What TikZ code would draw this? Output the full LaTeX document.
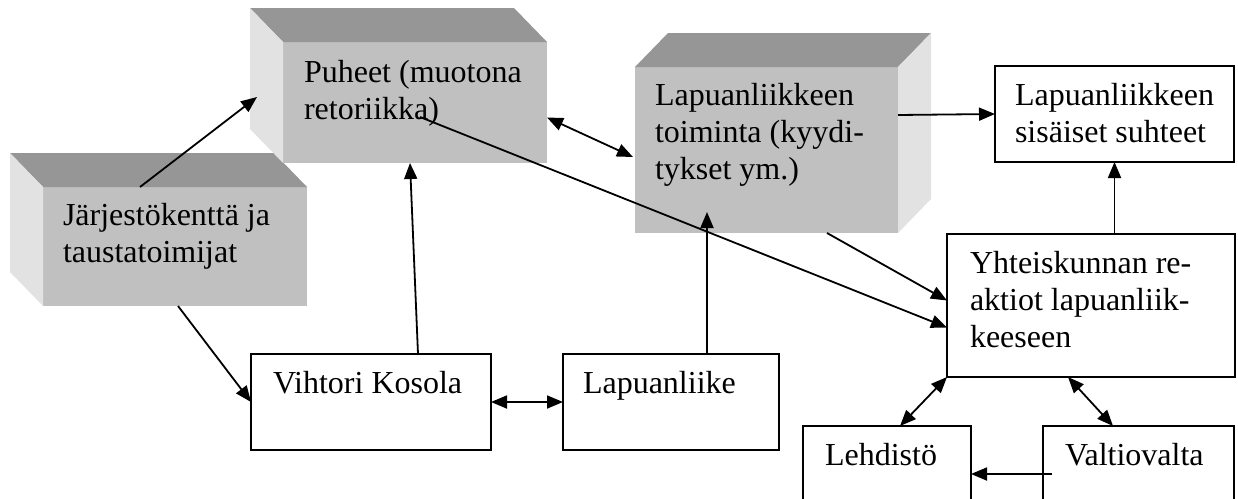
\documentclass[tikz,border=0pt]{standalone}
\usepackage{fontspec}
\setmainfont{Liberation Serif}
\usetikzlibrary{arrows.meta,calc,positioning}
\definecolor{frontgray}{RGB}{192,192,192}
\definecolor{topgray}{RGB}{150,150,150}
\definecolor{sidegray}{RGB}{226,226,226}

\begin{document}
\begin{tikzpicture}[x=1pt,y=-1pt,
every node/.style={font=\fontsize{32}{37}\selectfont,inner sep=0pt,outer sep=0pt},
face/.style={fill=frontgray,anchor=north west},
block/.style={draw,line width=1.8pt,anchor=north west},
txt/.style={anchor=base west,align=left},
link/.style={line width=1.8pt,-{Triangle[length=16pt,width=13pt]}},
both/.style={line width=1.8pt,{Triangle[length=16pt,width=13pt]}-{Triangle[length=16pt,width=13pt]}}]

\useasboundingbox (0,0) rectangle (1238,498);
\clip (0,0) rectangle (1238,498);

        % 3d boxes
        \node [face,minimum width=264pt,minimum height=119pt] (jarj) at (43,187) {};
        \fill [topgray] (jarj.north west) -- ++(-33,-34) -- ($(jarj.north east)+(-33,-34)$) -- (jarj.north east) -- cycle;
        \fill [sidegray] (jarj.north west) -- ++(-33,-34) -- ($(jarj.south west)+(-33,-34)$) -- (jarj.south west) -- cycle;

        \node [face,minimum width=264pt,minimum height=121pt] (puh) at (283,42) {};
        \fill [topgray] (puh.north west) -- ++(-33,-34) -- ($(puh.north east)+(-33,-34)$) -- (puh.north east) -- cycle;
        \fill [sidegray] (puh.north west) -- ++(-33,-34) -- ($(puh.south west)+(-33,-34)$) -- (puh.south west) -- cycle;

        \node [face,minimum width=263pt,minimum height=166pt] (toim) at (635,67) {};
        \fill [topgray] (toim.north west) -- ++(33,-34) -- ($(toim.north east)+(33,-34)$) -- (toim.north east) -- cycle;
        \fill [sidegray] (toim.north east) -- ++(33,-34) -- ($(toim.south east)+(33,-34)$) -- (toim.south east) -- cycle;

        % plain boxes
        \node [block,minimum width=239pt,minimum height=96pt] (sis) at (995,66) {};
        \node [block,minimum width=288pt,minimum height=143pt] (yht) at (947,234) {};
        \node [block,minimum width=240pt,minimum height=96pt] (vik) at (251,354) {};
        \node [block,minimum width=216pt,minimum height=96pt] (lap) at (563,354) {};
        \node [block,minimum width=168pt,minimum height=96pt] (leh) at (803,426) {};
        \node [block,minimum width=191pt,minimum height=96pt] (val) at (1043,426) {};

        % texts (base = last line)
        \node [txt] (jarjtxt) at ($(jarj.north west)+(20,75)$) {Järjestökenttä ja\\taustatoimijat};
        \node [txt] (puhtxt) at ($(puh.north west)+(21,77)$) {Puheet (muotona\\retoriikka)};
        \node [txt] (toimtxt) at ($(toim.north west)+(20,112)$) {Lapuanliikkeen\\toiminta (kyydi-\\tykset ym.)};
        \node [txt] (sistxt) at ($(sis.north west)+(20,76)$) {Lapuanliikkeen\\sisäiset suhteet};
        \node [txt] (yhttxt) at ($(yht.north west)+(23,113)$) {Yhteiskunnan re-\\aktiot lapuanliik-\\keeseen};
        \node [txt] (viktxt) at ($(vik.north west)+(22,39)$) {Vihtori Kosola};
        \node [txt] (laptxt) at ($(lap.north west)+(20,39)$) {Lapuanliike};
        \node [txt] (lehtxt) at ($(leh.north west)+(22,39)$) {Lehdistö};
        \node [txt] (valtxt) at ($(val.north west)+(22,39)$) {Valtiovalta};

        % connectors
        \draw [link] ($(jarj.north west)+(97,0)$) -- ($(puh.north west)+(-26,55)$);
        \draw [link] ($(jarj.south west)+(135,0)$) -- (vik.west);
        \draw [link] ($(vik.north west)+(167,0)$) -- ($(puh.south west)+(127,0)$);
        \draw [both] (vik.east) -- (lap.west);
        \draw [link] ($(lap.north west)+(144,0)$) -- ($(toim.south west)+(72,-21)$);
        \draw [both] ($(puh.east)+(0,15)$) -- ($(toim.west)+(-2,7)$);
        \draw [link] ($(puh.north west)+(137,75)$) -- ($(yht.west)+(0,22)$);
        \draw [link] ($(toim.south west)+(192,0)$) -- ($(yht.west)+(0,-5)$);
        \draw [link] ($(toim.north east)+(0,48)$) -- (sis.west);
        \draw [link] (sis.south |- yht.north) -- (sis.south);
        \draw [both] (yht.south west) -- ($(leh.north)+(13,0)$);
        \draw [both] ($(yht.south west)+(121,0)$) -- ($(val.north west)+(70,0)$);
        \draw [link] ($(val.west)+(9,0)$) -- (leh.east);
    \end{tikzpicture}
\end{document}
